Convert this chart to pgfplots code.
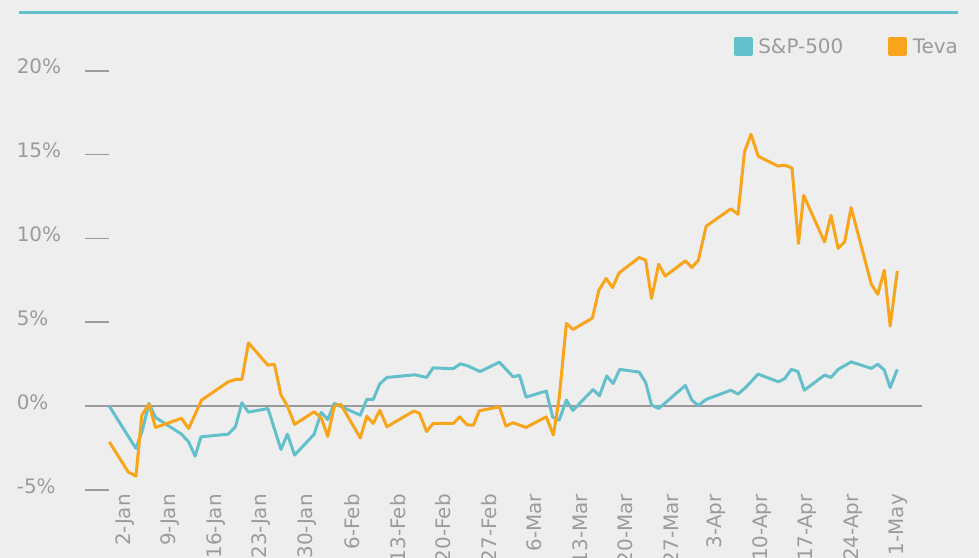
\documentclass[border=0pt]{standalone}
\usepackage{pgfplots}
\pgfplotsset{compat=1.18}
\usepackage{fontspec}
\setmainfont{DejaVu Sans}
\definecolor{bg}{HTML}{EEEEEE}
\definecolor{spc}{HTML}{63C0CB}
\definecolor{teva}{HTML}{F8A51B}
\definecolor{lab}{HTML}{9B9B9B}
\definecolor{zl}{HTML}{9A9A9A}
\begin{document}
\begin{tikzpicture}[x=1bp,y=1bp]
\useasboundingbox (0,0) rectangle (979,558);
\fill[bg] (0,0) rectangle (979,558);
\draw[spc, line width=3bp] (18.8,545.3) -- (958,545.3);
\begin{axis}[
  at={(109.3bp,68bp)}, anchor=south west,
  scale only axis, width=812.7bp, height=419.3bp,
  xmin=0, xmax=125, ymin=-5, ymax=20,
  axis line style={draw=none},
  clip=false,
  ytick={-5,0,5,10,15,20},
  yticklabels={-5\%,0\%,5\%,10\%,15\%,20\%},
  xtick={2,9,...,121},
  xticklabels={2-Jan,9-Jan,16-Jan,23-Jan,30-Jan,6-Feb,13-Feb,20-Feb,27-Feb,6-Mar,13-Mar,20-Mar,27-Mar,3-Apr,10-Apr,17-Apr,24-Apr,1-May},
  tick align=outside,
  ytick pos=left,
  xtick pos=bottom,
  major tick length=24bp,
  ytick style={draw=lab, line width=1.8bp},
  xtick style={draw=none},
  tick label style={font=\fontsize{20pt}{24pt}\selectfont, text=lab},
  yticklabel style={anchor=west, xshift=-72bp, yshift=4bp},
  xticklabel style={xshift=2.5bp, yshift=21bp, rotate=90, anchor=east, inner sep=1bp},
  legend style={at={(1.0468,1.0565)}, anchor=east, draw=none, fill=none,
    legend columns=2, font=\fontsize{20pt}{24pt}\selectfont, text=lab,
    inner sep=0pt, /tikz/every even column/.append style={column sep=43bp}},
  legend image code/.code={\fill[#1] (0bp,-8bp) rectangle (16bp,8bp); \path[draw=none] (0bp,0bp) -- (21bp,0bp);},
]
\addplot[zl, line width=2bp, forget plot] coordinates {(0,0) (125,0)};
\addplot[spc, line width=3bp, line join=round] coordinates {
(0,0) (2.9,-1.79) (4.1,-2.52) (5.1,-1.43) (6.1,0.16) (7.1,-0.67)
(11.1,-1.67) (12.2,-2.13) (13.2,-2.98) (14.1,-1.83) (18.3,-1.67)
(19.4,-1.23) (20.4,0.2) (21.4,-0.36) (24.4,-0.14) (26.4,-2.58)
(27.4,-1.67) (28.5,-2.92) (31.5,-1.68) (32.6,-0.37) (33.6,-0.8)
(34.6,0.16) (38.6,-0.54) (39.6,0.4) (40.6,0.4) (41.6,1.33) (42.7,1.71)
(47.0,1.87) (48.8,1.71) (49.8,2.28) (52.9,2.23) (54.0,2.52) (55.0,2.42)
(56.0,2.25) (57.0,2.06) (60.0,2.62) (62.1,1.75) (63.1,1.84) (64.1,0.54)
(67.2,0.9) (68.2,-0.66) (69.2,-0.83) (70.3,0.36) (71.3,-0.26)
(74.4,0.99) (75.4,0.62) (76.5,1.8) (77.5,1.35) (78.5,2.19) (81.5,2.03)
(82.5,1.41) (83.4,0.06) (84.5,-0.14) (88.6,1.23) (89.6,0.36) (90.6,0.04)
(91.8,0.4) (95.6,0.95) (96.7,0.72) (97.8,1.09) (99.8,1.91) (102.9,1.45)
(103.9,1.65) (104.9,2.19) (105.9,2.07) (106.9,0.95) (110.0,1.85)
(111.0,1.71) (112.1,2.19) (114.1,2.64) (117.2,2.25) (118.2,2.5)
(119.2,2.15) (120.1,1.11) (121.2,2.19)
};
\addlegendentry{S\&P-500}
\addplot[teva, line width=3bp, line join=round] coordinates {
(0,-2.13) (2.9,-3.92) (4.1,-4.17) (5.0,-0.54) (6.1,0.12) (7.1,-1.27)
(11.1,-0.73) (12.2,-1.33) (14.2,0.36) (18.3,1.45) (19.4,1.59) (20.4,1.59)
(21.4,3.77) (24.4,2.44) (25.4,2.5) (26.4,0.66) (27.4,0.0) (28.5,-1.09)
(31.5,-0.34) (32.6,-0.7) (33.6,-1.81) (34.6,0.0) (35.6,0.11) (38.6,-1.9)
(39.6,-0.6) (40.6,-1.03) (41.6,-0.24) (42.7,-1.23) (46.8,-0.3)
(47.7,-0.42) (48.8,-1.51) (49.8,-1.03) (52.9,-1.03) (53.9,-0.64)
(55.0,-1.11) (56.0,-1.14) (56.9,-0.28) (60.0,-0.04) (61.0,-1.19)
(62.1,-0.99) (64.1,-1.27) (67.2,-0.64) (68.3,-1.73) (69.2,0.5)
(70.3,4.93) (71.3,4.57) (74.3,5.25) (75.3,6.91) (76.4,7.61) (77.4,7.07)
(78.4,7.94) (81.5,8.86) (82.5,8.7) (83.4,6.42) (84.5,8.46) (85.5,7.75)
(88.6,8.66) (89.6,8.27) (90.6,8.7) (91.8,10.73) (95.6,11.76) (96.7,11.44)
(97.7,15.16) (98.7,16.21) (99.8,14.9) (102.8,14.32) (103.9,14.36)
(105.0,14.2) (106.0,9.7) (106.8,12.57) (110.0,9.79) (111.0,11.38)
(112.1,9.4) (113.1,9.79) (114.1,11.84) (117.2,7.27) (118.2,6.67)
(119.2,8.1) (120.1,4.77) (121.2,8.06)
};
\addlegendentry{Teva}
\end{axis}
\end{tikzpicture}
\end{document}
